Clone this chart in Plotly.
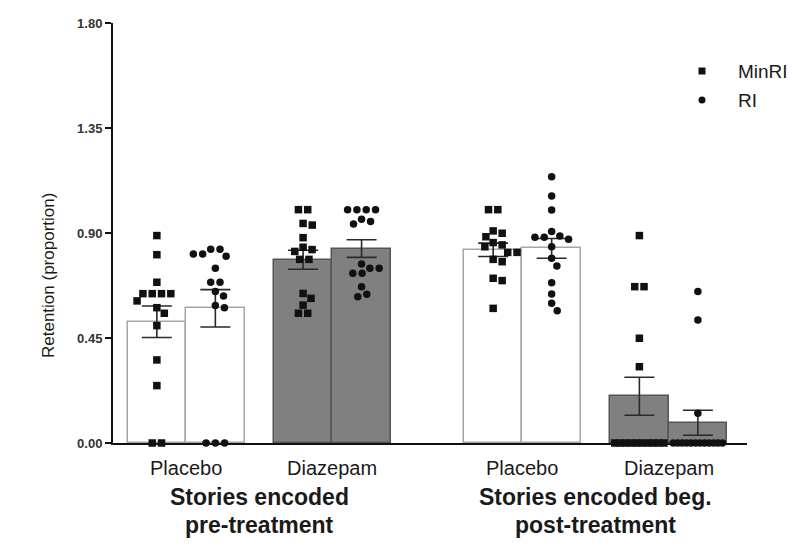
import numpy as np
import plotly.graph_objects as go

# ---------------------------------------------------------------- data
conditions = ["Placebo", "Diazepam", "Placebo", "Diazepam"]
encoding_groups = [["Stories encoded", "pre-treatment"],
                   ["Stories encoded beg.", "post-treatment"]]
series_names = ["MinRI", "RI"]
y_ticks = [0.00, 0.45, 0.90, 1.35, 1.80]

# individual retention scores (proportion), one list per bar
minri_placebo_pre = [0.889, 0.807, 0.689, 0.640, 0.640, 0.640, 0.640, 0.609,
                     0.580, 0.556, 0.503, 0.356, 0.246, 0.000, 0.000]
ri_placebo_pre = [0.830, 0.810, 0.800, 0.810, 0.830, 0.749, 0.689, 0.689,
                  0.649, 0.630, 0.589, 0.580, 0.000, 0.000, 0.000]
minri_diazepam_pre = [1.000, 1.000, 0.934, 0.941, 0.880, 0.839, 0.821, 0.829,
                      0.787, 0.787, 0.641, 0.620, 0.591, 0.556, 0.556]
ri_diazepam_pre = [1.000, 1.000, 1.000, 1.000, 0.959, 0.939, 0.949, 0.749,
                   0.727, 0.727, 0.749, 0.767, 0.670, 0.627, 0.637]
minri_placebo_post = [1.000, 1.000, 0.899, 0.909, 0.884, 0.849, 0.841, 0.859,
                      0.817, 0.817, 0.777, 0.787, 0.706, 0.696, 0.577]
ri_placebo_post = [1.141, 1.059, 0.999, 0.906, 0.882, 0.873, 0.887, 0.882,
                   0.841, 0.792, 0.759, 0.687, 0.639, 0.599, 0.567]
minri_diazepam_post = [0.889, 0.670, 0.670, 0.449, 0.327, 0.000, 0.000, 0.000,
                       0.000, 0.000, 0.000, 0.000, 0.000, 0.000, 0.000]
ri_diazepam_post = [0.649, 0.527, 0.127, 0.000, 0.000, 0.000, 0.000, 0.000,
                    0.000, 0.000, 0.000, 0.000, 0.000, 0.000, 0.000]

minri_sets = [minri_placebo_pre, minri_diazepam_pre,
              minri_placebo_post, minri_diazepam_post]
ri_sets = [ri_placebo_pre, ri_diazepam_pre, ri_placebo_post, ri_diazepam_post]

# ---------------------------------------------------------------- layout geometry
W, H = 792, 551
M_L, M_R, M_T, M_B = 113, 45, 23, 108
PLOT_W, PLOT_H = W - M_L - M_R, H - M_T - M_B
X_MAX = 10.84
Y_MAX = 1.80
pair_centers = [1.25, 3.75, 7.0, 9.5]
group_centers = [2.5, 8.25]
bar_w = 1.0
px_per_x = PLOT_W / X_MAX
px_per_y = PLOT_H / Y_MAX

FONT = "Liberation Sans, Arial, Helvetica, sans-serif"
INK = "#1a1a1a"
MARK = "#111111"


def below_axis(px):
    """Paper y coordinate for a point px pixels below the x axis."""
    return -px / PLOT_H


def page_x(px):
    return (px - M_L) / PLOT_W


def page_y(py):
    return (M_T + PLOT_H - py) / PLOT_H


def swarm_offsets(values, d_px, half_px):
    """Beeswarm x-offsets (px) so markers of diameter d_px don't overlap."""
    vals = np.asarray(values, float)
    order = np.argsort(-vals, kind="stable")
    sv = vals[order]
    offs = np.zeros(len(vals))
    placed = []
    i = 0
    while i < len(order):
        j = i
        while j < len(order) and sv[j] == sv[i]:
            j += 1
        k = j - i
        step = d_px if k == 1 else min(d_px, (2 * half_px - d_px) / (k - 1))
        rel = (np.arange(k) - (k - 1) / 2) * step
        y = sv[i] * px_per_y
        near = []
        for xp, yp in placed:
            dy = abs(yp - y)
            if dy < d_px:
                near.append((xp, np.sqrt(d_px ** 2 - dy ** 2)))
        cands = [0.0]
        for xp, h in near:
            for r in rel:
                cands += [xp + h - r, xp - h - r]
        cands.sort(key=abs)
        best = 0.0
        for c in cands:
            if all(abs(c + r - xp) >= h - 1e-6 for xp, h in near for r in rel):
                best = c
                break
        for n, r in zip(order[i:j], rel):
            offs[n] = best + r
            placed.append((best + r, y))
        i = j
    return offs


def sem(v):
    v = np.asarray(v, float)
    return v.std(ddof=1) / np.sqrt(len(v))


fig = go.Figure()

# bars: mean +/- SEM
for ci, cx in enumerate(pair_centers):
    diazepam = conditions[ci] == "Diazepam"
    fill = "#808080" if diazepam else "#ffffff"
    edge = "#555555" if diazepam else "#a6a6a6"
    for si, data in enumerate([minri_sets[ci], ri_sets[ci]]):
        xpos = cx + (si - 0.5) * bar_w
        fig.add_trace(go.Bar(
            x=[xpos], y=[float(np.mean(data))], width=bar_w,
            marker=dict(color=fill, line=dict(color=edge, width=1.5)),
            error_y=dict(type="data", array=[sem(data)], symmetric=True,
                         color="#2a2a2a", thickness=1.6, width=15),
            showlegend=False, hoverinfo="skip",
        ))

# individual points (beeswarm)
symbols = ["square", "circle"]
for si, (sets, name) in enumerate([(minri_sets, series_names[0]),
                                   (ri_sets, series_names[1])]):
    xs, ys = [], []
    for ci, cx in enumerate(pair_centers):
        data = sets[ci]
        base = cx + (si - 0.5) * bar_w
        off = swarm_offsets(data, 9.3, bar_w * px_per_x / 2)
        xs += list(base + off / px_per_x)
        ys += list(data)
    fig.add_trace(go.Scatter(
        x=xs, y=ys, mode="markers", name=name, showlegend=False,
        marker=dict(symbol=symbols[si], size=7.5, color=MARK,
                    line=dict(width=0)),
        cliponaxis=False,
    ))

# key in the upper right corner
legend_rows = [71, 100]
for si, (name, py) in enumerate(zip(series_names, legend_rows)):
    fig.add_shape(type="rect" if symbols[si] == "square" else "circle",
                  xref="paper", yref="paper",
                  xsizemode="pixel", ysizemode="pixel",
                  xanchor=page_x(702), yanchor=page_y(py),
                  x0=-3.5, x1=3.5, y0=-3.5, y1=3.5,
                  fillcolor=MARK, line=dict(width=0))
    fig.add_annotation(x=page_x(736), xref="paper", y=page_y(py), yref="paper",
                       text=name, showarrow=False, xanchor="left",
                       yanchor="middle",
                       font=dict(family=FONT, size=19, color=INK))

# category labels under each pair
for cx, label in zip(pair_centers, conditions):
    fig.add_annotation(x=cx, xref="x", y=below_axis(25), yref="paper",
                       text=label, showarrow=False, yanchor="middle",
                       font=dict(family=FONT, size=20, color=INK))
# encoding group labels (two lines each)
for gx, lines in zip(group_centers, encoding_groups):
    for li, line in enumerate(lines):
        fig.add_annotation(x=gx, xref="x", y=below_axis(54 + 28 * li),
                           yref="paper", text="<b>" + line + "</b>",
                           showarrow=False, yanchor="middle",
                           font=dict(family=FONT, size=23, color=INK))
# y-axis title
fig.add_annotation(x=-65 / PLOT_W, xref="paper", y=page_y(276), yref="paper",
                   text="Retention (proportion)", textangle=-90,
                   showarrow=False, xanchor="center", yanchor="middle",
                   font=dict(family=FONT, size=17, color=INK))

fig.update_layout(
    width=W, height=H,
    margin=dict(l=M_L, r=M_R, t=M_T, b=M_B, pad=0),
    paper_bgcolor="white", plot_bgcolor="white",
    barmode="overlay", bargap=0,
    font=dict(family=FONT, color=INK),
    showlegend=False,
    xaxis=dict(range=[0, X_MAX], showline=True, linecolor="#111111",
               linewidth=2, showgrid=False, zeroline=False,
               showticklabels=False, ticks=""),
    yaxis=dict(range=[0, Y_MAX], tickvals=y_ticks,
               ticktext=[f"<b>{v:.2f}</b>" for v in y_ticks],
               showline=True, linecolor="#111111", linewidth=2,
               ticks="outside", ticklen=6, tickwidth=2, tickcolor="#111111",
               showgrid=False, zeroline=False,
               tickfont=dict(family=FONT, size=13, color="#333333")),
)

fig.write_html("out.html")
